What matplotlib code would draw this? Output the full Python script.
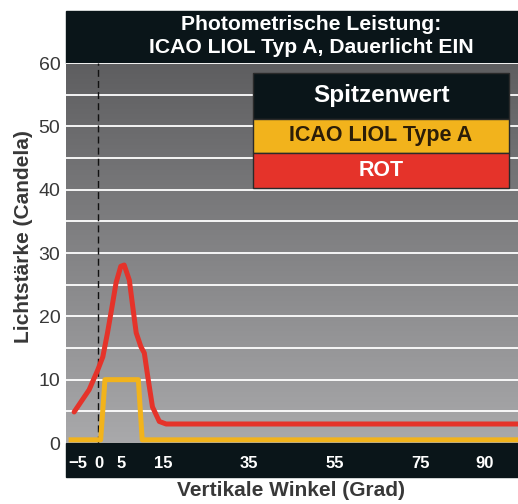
import matplotlib
matplotlib.use("Agg")
import matplotlib.pyplot as plt
import numpy as np
from matplotlib.patches import Rectangle

plt.rcParams["font.family"] = ["Liberation Sans", "DejaVu Sans"]

# data
rot_x = [-5.9, -2.4, -0.4, 0.8, 1.9, 3.1, 3.9, 5.0, 5.8, 7.0, 7.8, 8.6, 9.7, 10.5, 11.3, 12.4, 14.0, 15.6, 98.0]
rot_y = [4.9, 8.4, 11.5, 13.6, 17.4, 22.1, 25.3, 27.9, 28.1, 25.7, 21.5, 17.4, 15.2, 14.2, 10.5, 5.7, 3.4, 3.0, 3.0]
icao_x = [-6.6, 0.3, 1.3, 9.1, 10.0, 98.0]
icao_y = [0.5, 0.5, 10.0, 10.0, 0.5, 0.5]
x_ticks = [-5, 0, 5, 15, 35, 55, 75, 90]
y_ticks = [0, 10, 20, 30, 40, 50, 60]
grid_y = [5, 15, 25, 35, 45, 55]
legend_rows = ["Spitzenwert", "ICAO LIOL Type A", "ROT"]

NAVY = "#0a1519"
YELLOW = "#f2b31c"
RED = "#e5332a"
TXT = "#383838"

W, H = 518, 504
fig = plt.figure(figsize=(W / 100, H / 100), dpi=100)
ax = fig.add_axes([66 / W, (H - 443) / H, 452 / W, 380 / H])
xlim = (-7.8, 97.8)
ax.set_xlim(*xlim)
ax.set_ylim(0, 60)

# grey vertical gradient background
grad = np.linspace(0, 1, 256).reshape(-1, 1)
cmap = matplotlib.colors.LinearSegmentedColormap.from_list("g", ["#5e5e60", "#a9a9ab"])
ax.imshow(grad, extent=[*xlim, 0, 60], aspect="auto", cmap=cmap, origin="upper", zorder=0)

for v in y_ticks[1:] + grid_y:
    ax.axhline(v, color="white", lw=1.3, zorder=1)
ax.axvline(-0.25, color="#111111", lw=1.0, ls=(0, (5, 3)), zorder=2)

ax.plot(icao_x, icao_y, color=YELLOW, lw=3.6, solid_joinstyle="round", zorder=3)
ax.plot(rot_x, rot_y, color=RED, lw=3.6, solid_joinstyle="round", solid_capstyle="round", zorder=4)

for s in ax.spines.values():
    s.set_visible(False)
ax.set_yticks(y_ticks)
ax.set_xticks(x_ticks)
ax.tick_params(axis="y", length=0, pad=4, labelsize=14, labelcolor=TXT)
ax.tick_params(axis="x", length=0, pad=9, labelsize=12, labelcolor="white")
for lab in ax.get_xticklabels():
    lab.set_fontweight("bold")
fig.text(24 / W, (H - 237) / H, "Lichtstärke (Candela)", rotation=90, ha="center", va="center",
         fontsize=15, fontweight="bold", color=TXT)

# dark band behind x tick labels
fig.patches.append(Rectangle((66 / W, (H - 477) / H), 452 / W, 34 / H, transform=fig.transFigure, color=NAVY, zorder=-1))
fig.text(291 / W, (H - 490) / H, "Vertikale Winkel (Grad)", ha="center", va="center", fontsize=15, fontweight="bold", color=TXT)

# title bar
fig.patches.append(Rectangle((66 / W, (H - 63) / H), 452 / W, 52 / H, transform=fig.transFigure, color=NAVY, zorder=-1))
fig.text(311 / W, (H - 36) / H, "Photometrische Leistung:\nICAO LIOL Typ A, Dauerlicht EIN", ha="center", va="center",
         fontsize=15.2, fontweight="bold", color="white", linespacing=1.3)

# legend box
x0, x1 = 0.414, 0.980
rows = [(0.853, 0.974, NAVY, "white", 17.5), (0.763, 0.853, YELLOW, "#2b1d08", 15.5), (0.671, 0.763, RED, "white", 15.5)]
for (b, t, fc, tc, fs), label in zip(rows, legend_rows):
    ax.add_patch(Rectangle((x0, b), x1 - x0, t - b, transform=ax.transAxes, facecolor=fc, edgecolor="#2a2a2a", lw=1.0, zorder=6))
    ax.text((x0 + x1) / 2, (b + t) / 2, label, transform=ax.transAxes, ha="center", va="center",
            fontsize=fs, fontweight="bold", color=tc, zorder=7)

fig.savefig("out.png", dpi=100)
